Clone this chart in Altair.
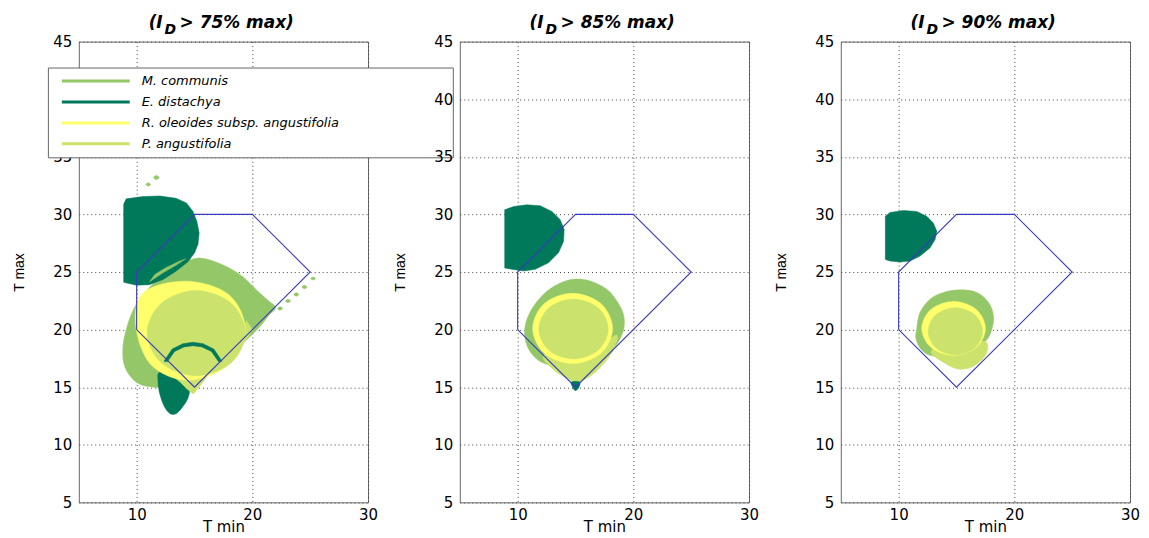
import altair as alt
import pandas as pd

SPECIES = ["M. communis", "E. distachya", "R. oleoides subsp. angustifolia", "P. angustifolia"]
COLORS = ["#93c767", "#00785a", "#ffff6b", "#cbe26d"]
THRESHOLDS = ["75%", "85%", "90%"]
X_TICKS = [10, 20, 30]
Y_TICKS = [5, 10, 15, 20, 25, 30, 35, 40, 45]
HEX_X = [10, 10, 15, 20, 25, 15, 10]
HEX_Y = [20, 25, 30, 30, 25, 15, 20]

# ---- panel 1 (I_D > 75% max) ----
P1_MC_MAIN = [(15.2, 26.2), (17.0, 25.8), (18.9, 24.8), (20.4, 23.4), (21.4, 22.5), (22.0, 21.9),
              (21.4, 21.2), (20.6, 20.2), (19.6, 19.2), (18.4, 18.0), (17.0, 16.9), (15.6, 16.0),
              (14.0, 15.1), (11.5, 15.0), (10.0, 15.4), (9.0, 16.7), (8.8, 18.3), (9.1, 20.0),
              (9.7, 21.7), (10.6, 23.1), (11.8, 24.3), (13.3, 25.4)]
P1_MC_DOT1 = [(22.18, 21.84), (22.4, 21.99), (22.62, 21.84), (22.4, 21.69)]
P1_MC_DOT2 = [(22.86, 22.48), (23.08, 22.63), (23.3, 22.48), (23.08, 22.33)]
P1_MC_DOT3 = [(23.58, 23.05), (23.8, 23.2), (24.02, 23.05), (23.8, 22.9)]
P1_MC_DOT4 = [(24.28, 23.7), (24.5, 23.85), (24.72, 23.7), (24.5, 23.55)]
P1_MC_DOT5 = [(25.05, 24.44), (25.25, 24.57), (25.45, 24.44), (25.25, 24.31)]
P1_MC_DOT6 = [(11.45, 33.2), (11.7, 33.38), (11.95, 33.2), (11.7, 33.02)]
P1_MC_DOT7 = [(10.8, 32.6), (11.0, 32.74), (11.2, 32.6), (11.0, 32.46)]
P1_ED_D = [(8.88, 24.1), (8.88, 30.9), (9.1, 31.35), (10.55, 31.55), (12.0, 31.6), (13.4, 31.4),
           (14.3, 31.0), (14.87, 30.26), (15.2, 29.4), (15.4, 28.4), (15.3, 27.4), (15.0, 26.65),
           (14.44, 25.9), (13.4, 25.07), (12.28, 24.35), (11.1, 23.9), (9.97, 23.86)]
P1_MC_SLIVER = [(11.12, 24.15), (12.28, 24.93), (13.43, 25.6), (14.24, 26.14), (13.7, 25.94),
                (12.56, 25.4), (11.56, 24.78)]
P1_ED_LOW = [(12.0, 16.3), (13.4, 15.9), (14.55, 15.3), (14.45, 14.1), (13.9, 13.2), (13.4, 12.7),
             (12.9, 12.7), (12.4, 13.3), (12.0, 14.4), (11.85, 15.5)]
P1_PA_WEDGE = [(19.5, 20.8), (20.0, 20.0), (19.6, 19.3), (19.0, 18.6), (18.3, 17.9), (17.5, 17.2),
               (16.7, 16.5), (16.0, 15.8), (15.4, 15.0), (14.9, 14.4), (14.4, 14.8), (13.8, 15.4),
               (13.2, 15.9), (14.5, 16.3), (16.0, 16.8), (17.5, 17.8), (18.8, 19.2)]
P1_RO = [(19.4, 19.9), (18.0, 23.0), (14.4, 24.2), (10.7, 23.3), (9.9, 20.5), (11.2, 17.0),
         (14.4, 15.6), (17.9, 16.9)]
P1_PA_DISC = [(19.4, 19.7), (18.15, 22.3), (15.15, 23.4), (12.15, 22.3), (10.9, 19.7), (12.15, 17.1),
              (15.15, 16.0), (18.15, 17.1)]
P1_ED_ARC = [(12.36, 17.25), (13.07, 18.31), (14.0, 18.78), (14.87, 18.9), (15.74, 18.78),
             (16.67, 18.31), (17.38, 17.25), (17.09, 17.2), (16.46, 18.1), (15.64, 18.5),
             (14.87, 18.6), (14.1, 18.5), (13.28, 18.1), (12.65, 17.2)]

# ---- panel 2 (I_D > 85% max) ----
P2_ED_D = [(8.88, 25.35), (8.88, 30.4), (9.66, 30.69), (10.8, 30.83), (11.95, 30.75), (12.96, 30.26),
           (13.68, 29.54), (14.02, 28.68), (13.97, 27.67), (13.53, 26.67), (12.67, 25.8),
           (11.52, 25.23), (10.52, 25.09), (9.51, 25.23)]
P2_MC = [(14.83, 24.37), (16.26, 24.22), (17.7, 23.5), (18.56, 22.5), (19.14, 21.35), (19.2, 20.2),
         (18.9, 19.3), (18.3, 18.4), (17.2, 17.5), (15.5, 17.0), (14.0, 16.8), (12.8, 16.9),
         (11.7, 17.4), (10.9, 18.4), (10.6, 19.6), (10.8, 20.9), (11.5, 22.2), (12.5, 23.3), (13.6, 24.0)]
P2_PA_WEDGE = [(12.2, 17.6), (13.0, 16.6), (14.0, 15.9), (15.1, 15.45), (16.2, 15.9), (17.4, 17.0),
               (18.3, 18.3), (18.6, 19.5), (17.5, 19.0), (15.0, 18.2), (13.0, 18.3)]
P2_RO = [(18.2, 20.1), (17.19, 22.26), (14.75, 23.15), (12.31, 22.26), (11.3, 20.1), (12.31, 17.94),
         (14.75, 17.05), (17.19, 17.94)]
P2_PA_DISC = [(17.83, 20.05), (16.95, 21.89), (14.83, 22.65), (12.71, 21.89), (11.83, 20.05),
              (12.71, 18.21), (14.83, 17.45), (16.95, 18.21)]
P2_ED_DOT = [(14.65, 15.45), (15.35, 15.45), (15.3, 15.0), (15.0, 14.7), (14.75, 15.0)]

# ---- panel 3 (I_D > 90% max) ----
P3_ED_D = [(8.85, 26.09), (8.85, 29.83), (9.25, 30.17), (10.4, 30.34), (11.56, 30.26), (12.43, 29.83),
           (13.0, 29.25), (13.3, 28.53), (13.15, 27.82), (12.72, 27.1), (11.85, 26.38),
           (10.98, 25.95), (10.12, 25.86), (9.25, 25.95)]
P3_MC = [(15.32, 23.45), (16.76, 23.22), (17.77, 22.36), (18.2, 21.2), (18.06, 20.06), (17.6, 19.1),
         (16.5, 18.3), (15.0, 17.7), (13.0, 17.7), (12.0, 18.2), (11.5, 19.2), (11.56, 20.06),
         (11.85, 21.5), (12.72, 22.64), (13.87, 23.22)]
P3_PA_WEDGE = [(12.8, 18.0), (13.8, 17.2), (15.0, 16.6), (16.2, 16.7), (17.3, 17.5), (17.7, 18.4),
               (17.3, 19.0), (15.0, 18.5), (13.5, 18.6)]
P3_RO = [(17.5, 20.1), (16.69, 21.76), (14.75, 22.45), (12.81, 21.76), (12.0, 20.1), (12.81, 18.44),
         (14.75, 17.75), (16.69, 18.44)]
P3_PA_DISC = [(17.25, 19.85), (16.56, 21.3), (14.9, 21.9), (13.24, 21.3), (12.55, 19.85),
              (13.24, 18.4), (14.9, 17.8), (16.56, 18.4)]

MC, ED, RO, PA = SPECIES
LIN, CAR = "linear-closed", "cardinal-closed"
# (panel, species, draw level, interpolation, outline)
SHAPES = [
    (0, MC, 0, CAR, P1_MC_MAIN), (0, MC, 0, CAR, P1_MC_DOT1), (0, MC, 0, CAR, P1_MC_DOT2),
    (0, MC, 0, CAR, P1_MC_DOT3), (0, MC, 0, CAR, P1_MC_DOT4), (0, MC, 0, CAR, P1_MC_DOT5),
    (0, MC, 0, CAR, P1_MC_DOT6), (0, MC, 0, CAR, P1_MC_DOT7),
    (0, ED, 1, LIN, P1_ED_D), (0, ED, 1, CAR, P1_ED_LOW),
    (0, MC, 2, LIN, P1_MC_SLIVER), (0, PA, 2, LIN, P1_PA_WEDGE),
    (0, RO, 3, CAR, P1_RO), (0, PA, 4, CAR, P1_PA_DISC), (0, ED, 5, LIN, P1_ED_ARC),
    (1, MC, 0, CAR, P2_MC), (1, ED, 1, LIN, P2_ED_D), (1, PA, 2, CAR, P2_PA_WEDGE),
    (1, RO, 3, CAR, P2_RO), (1, PA, 4, CAR, P2_PA_DISC), (1, ED, 5, CAR, P2_ED_DOT),
    (2, MC, 0, CAR, P3_MC), (2, ED, 1, LIN, P3_ED_D), (2, PA, 2, CAR, P3_PA_WEDGE),
    (2, RO, 3, CAR, P3_RO), (2, PA, 4, CAR, P3_PA_DISC),
]

rows = []
for sid, (panel, sp, z, interp, pts) in enumerate(SHAPES):
    for i, (x, y) in enumerate(pts):
        rows.append({"panel": panel, "sid": sid, "species": sp, "z": z, "interp": interp,
                     "i": i, "x": x, "y": y})
shapes_df = pd.DataFrame(rows)
hex_df = pd.DataFrame({"i": list(range(len(HEX_X))), "x": HEX_X, "y": HEX_Y})

# line symbol drawn from x=+0.08 to +11.42 (units of half the symbol width); the trailing
# move-to widens the legend frame to the right without drawing anything
LEG = alt.Legend(
    title=None, orient="none", legendX=-31, legendY=26,
    fillColor="white", strokeColor="#666666", padding=6, cornerRadius=0,
    labelFont="DejaVu Sans", labelFontStyle="italic", labelFontSize=13, labelColor="black",
    labelOffset=73, labelLimit=600,
    symbolType="M0.08,0H11.42M63.4,0", symbolSize=144, symbolStrokeWidth=3, symbolOpacity=1,
    rowPadding=6,
)

XS = alt.Scale(domain=[5, 30], nice=False, zero=False)
YS = alt.Scale(domain=[5, 45], nice=False, zero=False)
CS = alt.Scale(domain=SPECIES, range=COLORS)
XA = alt.Axis(values=X_TICKS, title="T min", grid=True, titleFont="DejaVu Sans", titleFontSize=15,
              titleBaseline="top", titleY=17, labelPadding=5, labelFlush=False)
YA = alt.Axis(values=Y_TICKS, title="T max", grid=True, titleFont="Liberation Sans", titleFontSize=14,
              titleX=-59, titleY=231, titleAngle=270, titleBaseline="middle", titleAlign="center",
              labelPadding=7, labelFlush=False)
X = alt.X("x:Q", scale=XS, axis=XA)
Y = alt.Y("y:Q", scale=YS, axis=YA)

TFONT = dict(font="DejaVu Sans", fontWeight="bold", fontStyle="italic", align="left",
             baseline="alphabetic", color="black")


def panel(p):
    leg = LEG if p == 0 else None
    fill = alt.Fill("species:N", scale=CS, legend=leg)
    stroke = alt.Stroke("species:N", scale=CS, legend=leg)
    layers = []
    keys = sorted({(s[2], s[3]) for s in SHAPES if s[0] == p})
    for z, interp in keys:
        layers.append(
            alt.Chart(shapes_df)
            .transform_filter(f"datum.panel == {p} && datum.z == {z} && datum.interp == '{interp}'")
            .mark_line(interpolate=interp, strokeWidth=0.5)
            .encode(x=X, y=Y, fill=fill, stroke=stroke, detail="sid:N", order="i:Q")
        )
    layers.append(
        alt.Chart(hex_df).mark_line(color="#3a3ac0", strokeWidth=1.1)
        .encode(x=X, y=Y, order="i:Q")
    )
    t1 = alt.Chart(pd.DataFrame({"t": ["(I"]})).mark_text(fontSize=17, **TFONT).encode(
        text="t:N", x=alt.value(70), y=alt.value(-14))
    t2 = alt.Chart(pd.DataFrame({"t": ["D"]})).mark_text(fontSize=14, **TFONT).encode(
        text="t:N", x=alt.value(86), y=alt.value(-8))
    t3 = alt.Chart(pd.DataFrame({"t": [f"> {THRESHOLDS[p]} max)"]})).mark_text(fontSize=17, **TFONT).encode(
        text="t:N", x=alt.value(101), y=alt.value(-14))
    layers += [t1, t2, t3]
    return alt.layer(*layers).properties(width=290, height=462)


chart = (
    alt.hconcat(panel(0), panel(1), panel(2), spacing=92, bounds="flush")
    .resolve_legend(fill="independent", stroke="independent")
    .properties(padding={"left": 4, "top": 4, "right": 0, "bottom": 0})
    .configure_view(stroke="#666666", strokeWidth=1)
    .configure_axis(domain=False, ticks=False, gridDash=[1, 3], gridColor="#444444", gridOpacity=1,
                    labelFont="DejaVu Sans", labelFontSize=15, labelColor="black",
                    titleColor="black", titleFontWeight="normal")
)

chart.save("out.html", embed_options={"renderer": "svg", "actions": False})
